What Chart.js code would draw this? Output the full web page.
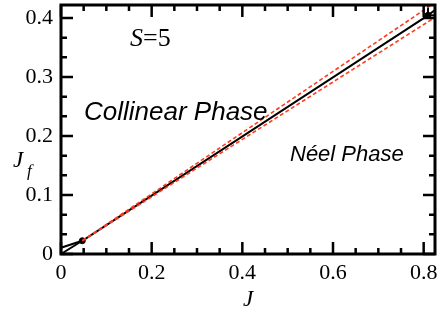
<!DOCTYPE html>
<html><head><meta charset="utf-8">
<script src="https://cdn.jsdelivr.net/npm/chart.js@4"></script>
<style>html,body{margin:0;padding:0;background:#fff}#wrap{width:441px;height:312px}</style>
</head><body><div id="wrap"><canvas id="c" width="441" height="312"></canvas></div>
<script>
// Data
const boundaryJ   = [0, 0.047, 0.8095, 0.825];
const boundaryJf  = [0.0107, 0.0225, 0.4045, 0.4135];
const lowerBranchJ  = [0, 0.047];
const lowerBranchJf = [0, 0.0225];
const topVertJ  = [0.8095, 0.8095];
const topVertJf = [0.4045, 0.422];
const topHorzJ  = [0.8095, 0.825];
const topHorzJf = [0.4045, 0.4045];
const dotsJ  = [0.047, 0.8095];
const dotsJf = [0.0225, 0.4045];
const upperErrJ  = [0.047, 0.817];
const upperErrJf = [0.0225, 0.422];
const lowerErrJ  = [0.047, 0.825];
const lowerErrJf = [0.0225, 0.401];
const xTickLabels = [0, 0.2, 0.4, 0.6, 0.8];
const yTickLabels = [0, 0.1, 0.2, 0.3, 0.4];
const xMinor = [0.05,0.1,0.15,0.25,0.3,0.35,0.45,0.5,0.55,0.65,0.7,0.75];
const yMinor = [1/30,2/30,4/30,5/30,7/30,8/30,10/30,11/30];
const X_MAX = 0.825, Y_MAX = 0.422;

const pts = (xs, ys) => xs.map((x, i) => ({x, y: ys[i]}));
const RED = '#ff3b1f';

const frame = {
  id: 'frame',
  afterDatasetsDraw(chart) {
    const {ctx, chartArea: a, scales: {x, y}} = chart;
    ctx.save();
    ctx.strokeStyle = '#000';
    ctx.lineCap = 'butt';
    const tick = (v, len, isX) => {
      ctx.lineWidth = 2.5;
      ctx.beginPath();
      if (isX) {
        const p = x.getPixelForValue(v);
        ctx.moveTo(p, a.bottom); ctx.lineTo(p, a.bottom - len);
        ctx.moveTo(p, a.top); ctx.lineTo(p, a.top + len);
      } else {
        const p = y.getPixelForValue(v);
        ctx.moveTo(a.left, p); ctx.lineTo(a.left + len, p);
        ctx.moveTo(a.right, p); ctx.lineTo(a.right - len, p);
      }
      ctx.stroke();
    };
    xTickLabels.forEach(v => tick(v, 12, true));
    xMinor.forEach(v => tick(v, 6, true));
    yTickLabels.forEach(v => tick(v, 12, false));
    yMinor.forEach(v => tick(v, 6, false));
    ctx.lineWidth = 3;
    ctx.strokeRect(a.left, a.top, a.right - a.left, a.bottom - a.top);
    ctx.fillStyle = '#000';
    ctx.textBaseline = 'alphabetic';
    ctx.textAlign = 'left';
    ctx.font = 'italic 26px "Liberation Serif"';
    ctx.fillText('S', 130, 46);
    let w = ctx.measureText('S').width;
    ctx.font = '26px "Liberation Serif"';
    ctx.fillText('=5', 130 + w, 46);
    ctx.font = 'italic 26px "Liberation Sans"';
    ctx.fillText('Collinear Phase', 84, 120);
    ctx.font = 'italic 22px "Liberation Sans"';
    ctx.fillText('Néel Phase', 290, 161);
    ctx.font = 'italic 23px "Liberation Serif"';
    ctx.textAlign = 'center';
    ctx.fillText('J', 248, 306);
    ctx.textAlign = 'left';
    ctx.fillText('J', 13, 167);
    ctx.font = 'italic 17px "Liberation Serif"';
    ctx.fillText('f', 27, 176);
    ctx.restore();
  }
};

new Chart(document.getElementById('c'), {
  type: 'scatter',
  data: {
    datasets: [
      {data: pts(upperErrJ, upperErrJf), showLine: true, borderColor: RED, borderWidth: 1.6, borderDash: [4, 2.5], pointRadius: 0},
      {data: pts(lowerErrJ, lowerErrJf), showLine: true, borderColor: RED, borderWidth: 1.6, borderDash: [4, 2.5], pointRadius: 0},
      {data: pts(boundaryJ, boundaryJf), showLine: true, borderColor: '#000', borderWidth: 2, pointRadius: 0},
      {data: pts(lowerBranchJ, lowerBranchJf), showLine: true, borderColor: '#000', borderWidth: 2, pointRadius: 0},
      {data: pts(topVertJ, topVertJf), showLine: true, borderColor: '#000', borderWidth: 2, pointRadius: 0},
      {data: pts(topHorzJ, topHorzJf), showLine: true, borderColor: '#000', borderWidth: 2, pointRadius: 0},
      {data: pts(dotsJ, dotsJf), showLine: false, backgroundColor: '#000', borderColor: '#000', pointRadius: 3}
    ]
  },
  options: {
    responsive: false,
    animation: false,
    events: [],
    clip: false,
    layout: {padding: {left: 0, top: 5, right: 6, bottom: 0}},
    plugins: {legend: {display: false}, tooltip: {enabled: false}},
    scales: {
      x: {
        type: 'linear', min: 0, max: X_MAX,
        grid: {display: false, drawTicks: false},
        border: {display: false},
        afterBuildTicks: s => { s.ticks = xTickLabels.map(v => ({value: v})); },
        afterFit: s => { s.height = 58; s.paddingLeft = 0; s.paddingRight = 0; },
        ticks: {color: '#000', padding: 6, maxRotation: 0, autoSkip: false,
          font: {family: '"Liberation Serif"', size: 22},
          callback: v => String(v)}
      },
      y: {
        type: 'linear', min: 0, max: Y_MAX,
        grid: {display: false, drawTicks: false},
        border: {display: false},
        afterBuildTicks: s => { s.ticks = yTickLabels.map(v => ({value: v})); },
        afterFit: s => { s.width = 61; s.paddingTop = 0; s.paddingBottom = 0; },
        ticks: {color: '#000', padding: 8, autoSkip: false,
          font: {family: '"Liberation Serif"', size: 22},
          callback: v => String(v)}
      }
    }
  },
  plugins: [frame]
});
</script></body></html>
